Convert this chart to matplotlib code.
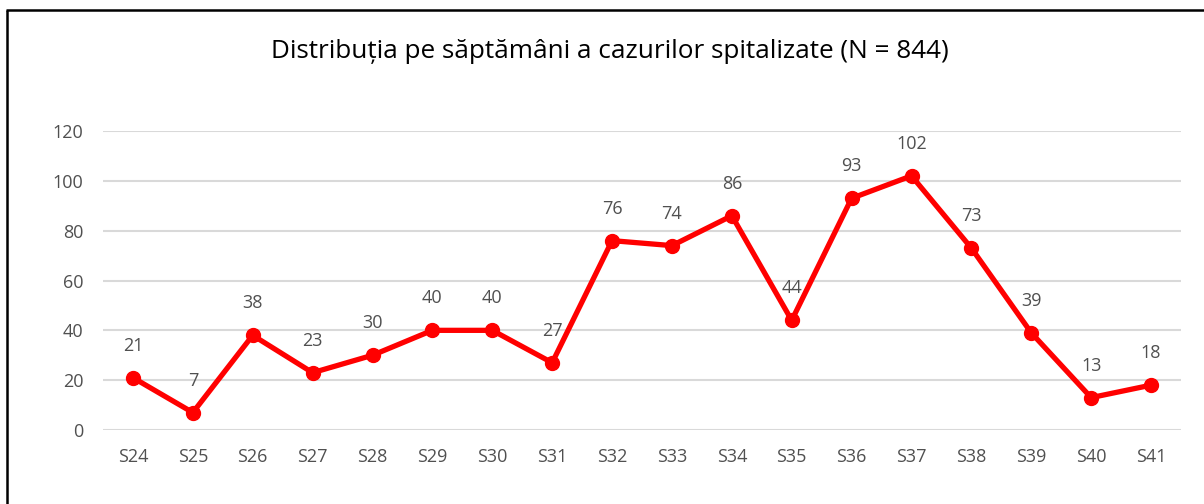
import matplotlib
matplotlib.use("Agg")
import matplotlib.pyplot as plt
from matplotlib.lines import Line2D

weeks = ["S24", "S25", "S26", "S27", "S28", "S29", "S30", "S31", "S32",
         "S33", "S34", "S35", "S36", "S37", "S38", "S39", "S40", "S41"]
cases = [21, 7, 38, 23, 30, 40, 40, 27, 76, 74, 86, 44, 93, 102, 73, 39, 13, 18]
yticks = [0, 20, 40, 60, 80, 100, 120]
title = "Distribuția pe săptămâni a cazurilor spitalizate (N = 844)"

plt.rcParams['font.family'] = ['Open Sans', 'DejaVu Sans']
text_color = "#505050"

fig = plt.figure(figsize=(12.04, 5.04), dpi=100)
ax = fig.add_axes([103/1204, (504-430)/504, (1181-103)/1204, (430-131)/504])

x = list(range(len(weeks)))
ax.plot(x, cases, color="#ff0000", lw=3.8, marker="o", markersize=10,
        solid_joinstyle="miter", zorder=3)
for xi, v in zip(x, cases):
    ax.annotate(str(v), (xi, v), xytext=(0, 23), textcoords="offset points",
                ha="center", va="center", fontsize=13, color=text_color)

ax.set_xlim(-0.5, len(weeks) - 0.5)
ax.set_ylim(0, 120)
ax.set_yticks(yticks)
ax.set_xticks(x)
ax.set_xticklabels(weeks)
ax.grid(axis="y", color="#d9d9d9", lw=1.5)
ax.set_axisbelow(True)
for s in ax.spines.values():
    s.set_visible(False)
ax.tick_params(axis="both", length=0, labelsize=13, colors=text_color)
ax.tick_params(axis="x", pad=13)
ax.tick_params(axis="y", pad=14)

fig.text(610/1204, 1 - 51/504, title, ha="center", va="center",
         fontsize=18.8, color="black")

# frame lines (left and top)
fig.add_artist(Line2D([6.5/1204, 6.5/1204], [0, 1 - 10/504], transform=fig.transFigure,
                      color="black", lw=1.8, solid_capstyle="butt"))
fig.add_artist(Line2D([5.5/1204, 1], [1 - 10/504, 1 - 10/504], transform=fig.transFigure,
                      color="black", lw=1.8, solid_capstyle="butt"))

fig.savefig("out.png", dpi=100)
